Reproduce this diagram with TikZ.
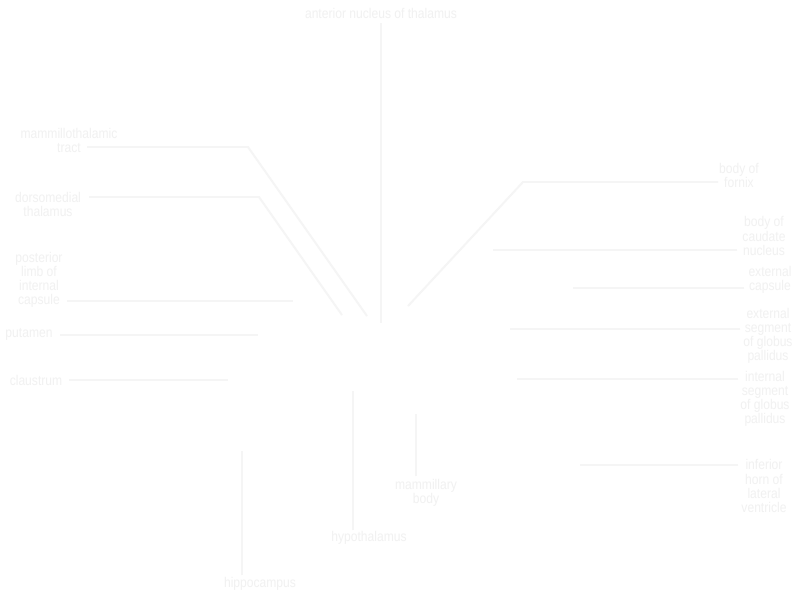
\documentclass[tikz,border=0pt]{standalone}
\usepackage{fontspec}
\usepackage{xcolor}
\usepackage{tikz}
\usetikzlibrary{positioning, calc}
\newfontfamily\lblfont{Liberation Sans}[FakeStretch=0.86]
\definecolor{palegray}{RGB}{241,241,241}
\definecolor{leadgray}{RGB}{245,245,245}

\begin{document}
\begin{tikzpicture}[
        x=0.025cm, y=-0.025cm,
        lbl/.style={inner sep=0pt, align=center, text=palegray, font=\lblfont\fontsize{10}{10}\selectfont},
        lead/.style={draw=leadgray, line width=1.4pt}
    ]
        \useasboundingbox[fill=white] (0,0) rectangle (800,600);

        % labels, left side
        \node[lbl] (ant) at (381,13) {anterior nucleus of thalamus};
        \node[lbl] (mtt) at (69,140) {mammillothalamic\\tract};
        \node[lbl] (dmt) at (48,204) {dorsomedial\\thalamus};
        \node[lbl] (plic) at (39,280) {posterior\\limb of\\internal\\capsule};
        \node[lbl] (put) at (29,334) {putamen};
        \node[lbl] (cla) at (36,380) {claustrum};

        % labels, bottom
        \node[lbl] (hip) at (260,584) {hippocampus};
        \node[lbl] (hyp) at (369,538) {hypothalamus};
        \node[lbl] (mb) at (426,493) {mammillary\\body};

        % labels, right side
        \node[lbl] (fx) at (739,175) {body of\\fornix};
        \node[lbl] (cdt) at (764,236) {body of\\caudate\\nucleus};
        \node[lbl] (ec) at (770,280) {external\\capsule};
        \node[lbl] (gpe) at (768,336) {external\\segment\\of globus\\pallidus};
        \node[lbl] (gpi) at (765,399) {internal\\segment\\of globus\\pallidus};
        \node[lbl] (ih) at (764,486) {inferior\\horn of\\lateral\\ventricle};

        % leader line ends
        \coordinate (ant-a) at (381,23);   \coordinate (ant-b) at (381,323);
        \coordinate (mtt-a) at (87,147);   \coordinate (mtt-k) at (248,147);  \coordinate (mtt-b) at (367,316);
        \coordinate (dmt-a) at (89,197);   \coordinate (dmt-k) at (259,197);  \coordinate (dmt-b) at (342,315);
        \coordinate (plic-a) at (67,301);  \coordinate (plic-b) at (293,301);
        \coordinate (put-a) at (60,335);   \coordinate (put-b) at (258,335);
        \coordinate (cla-a) at (69,380);   \coordinate (cla-b) at (228,380);
        \coordinate (hip-a) at (242,575);  \coordinate (hip-b) at (242,451);
        \coordinate (hyp-a) at (353,530);  \coordinate (hyp-b) at (353,391);
        \coordinate (mb-a) at (416,476);   \coordinate (mb-b) at (416,414);
        \coordinate (fx-a) at (718,182);   \coordinate (fx-k) at (523,182);   \coordinate (fx-b) at (408,306);
        \coordinate (cdt-a) at (737,250);  \coordinate (cdt-b) at (493,250);
        \coordinate (ec-a) at (744,288);   \coordinate (ec-b) at (573,288);
        \coordinate (gpe-a) at (740,329);  \coordinate (gpe-b) at (510,329);
        \coordinate (gpi-a) at (738,379);  \coordinate (gpi-b) at (517,379);
        \coordinate (ih-a) at (738,465);   \coordinate (ih-b) at (580,465);

        % leader lines
        \draw[lead] (ant-a) -- (ant-b);
        \draw[lead] (mtt-a) -- (mtt-k) -- (mtt-b);
        \draw[lead] (dmt-a) -- (dmt-k) -- (dmt-b);
        \draw[lead] (fx-a) -- (fx-k) -- (fx-b);
        \foreach \n in {plic, put, cla, hip, hyp, mb, cdt, ec, gpe, gpi, ih}
            \draw[lead] (\n-a) -- (\n-b);

    \end{tikzpicture}
\end{document}
